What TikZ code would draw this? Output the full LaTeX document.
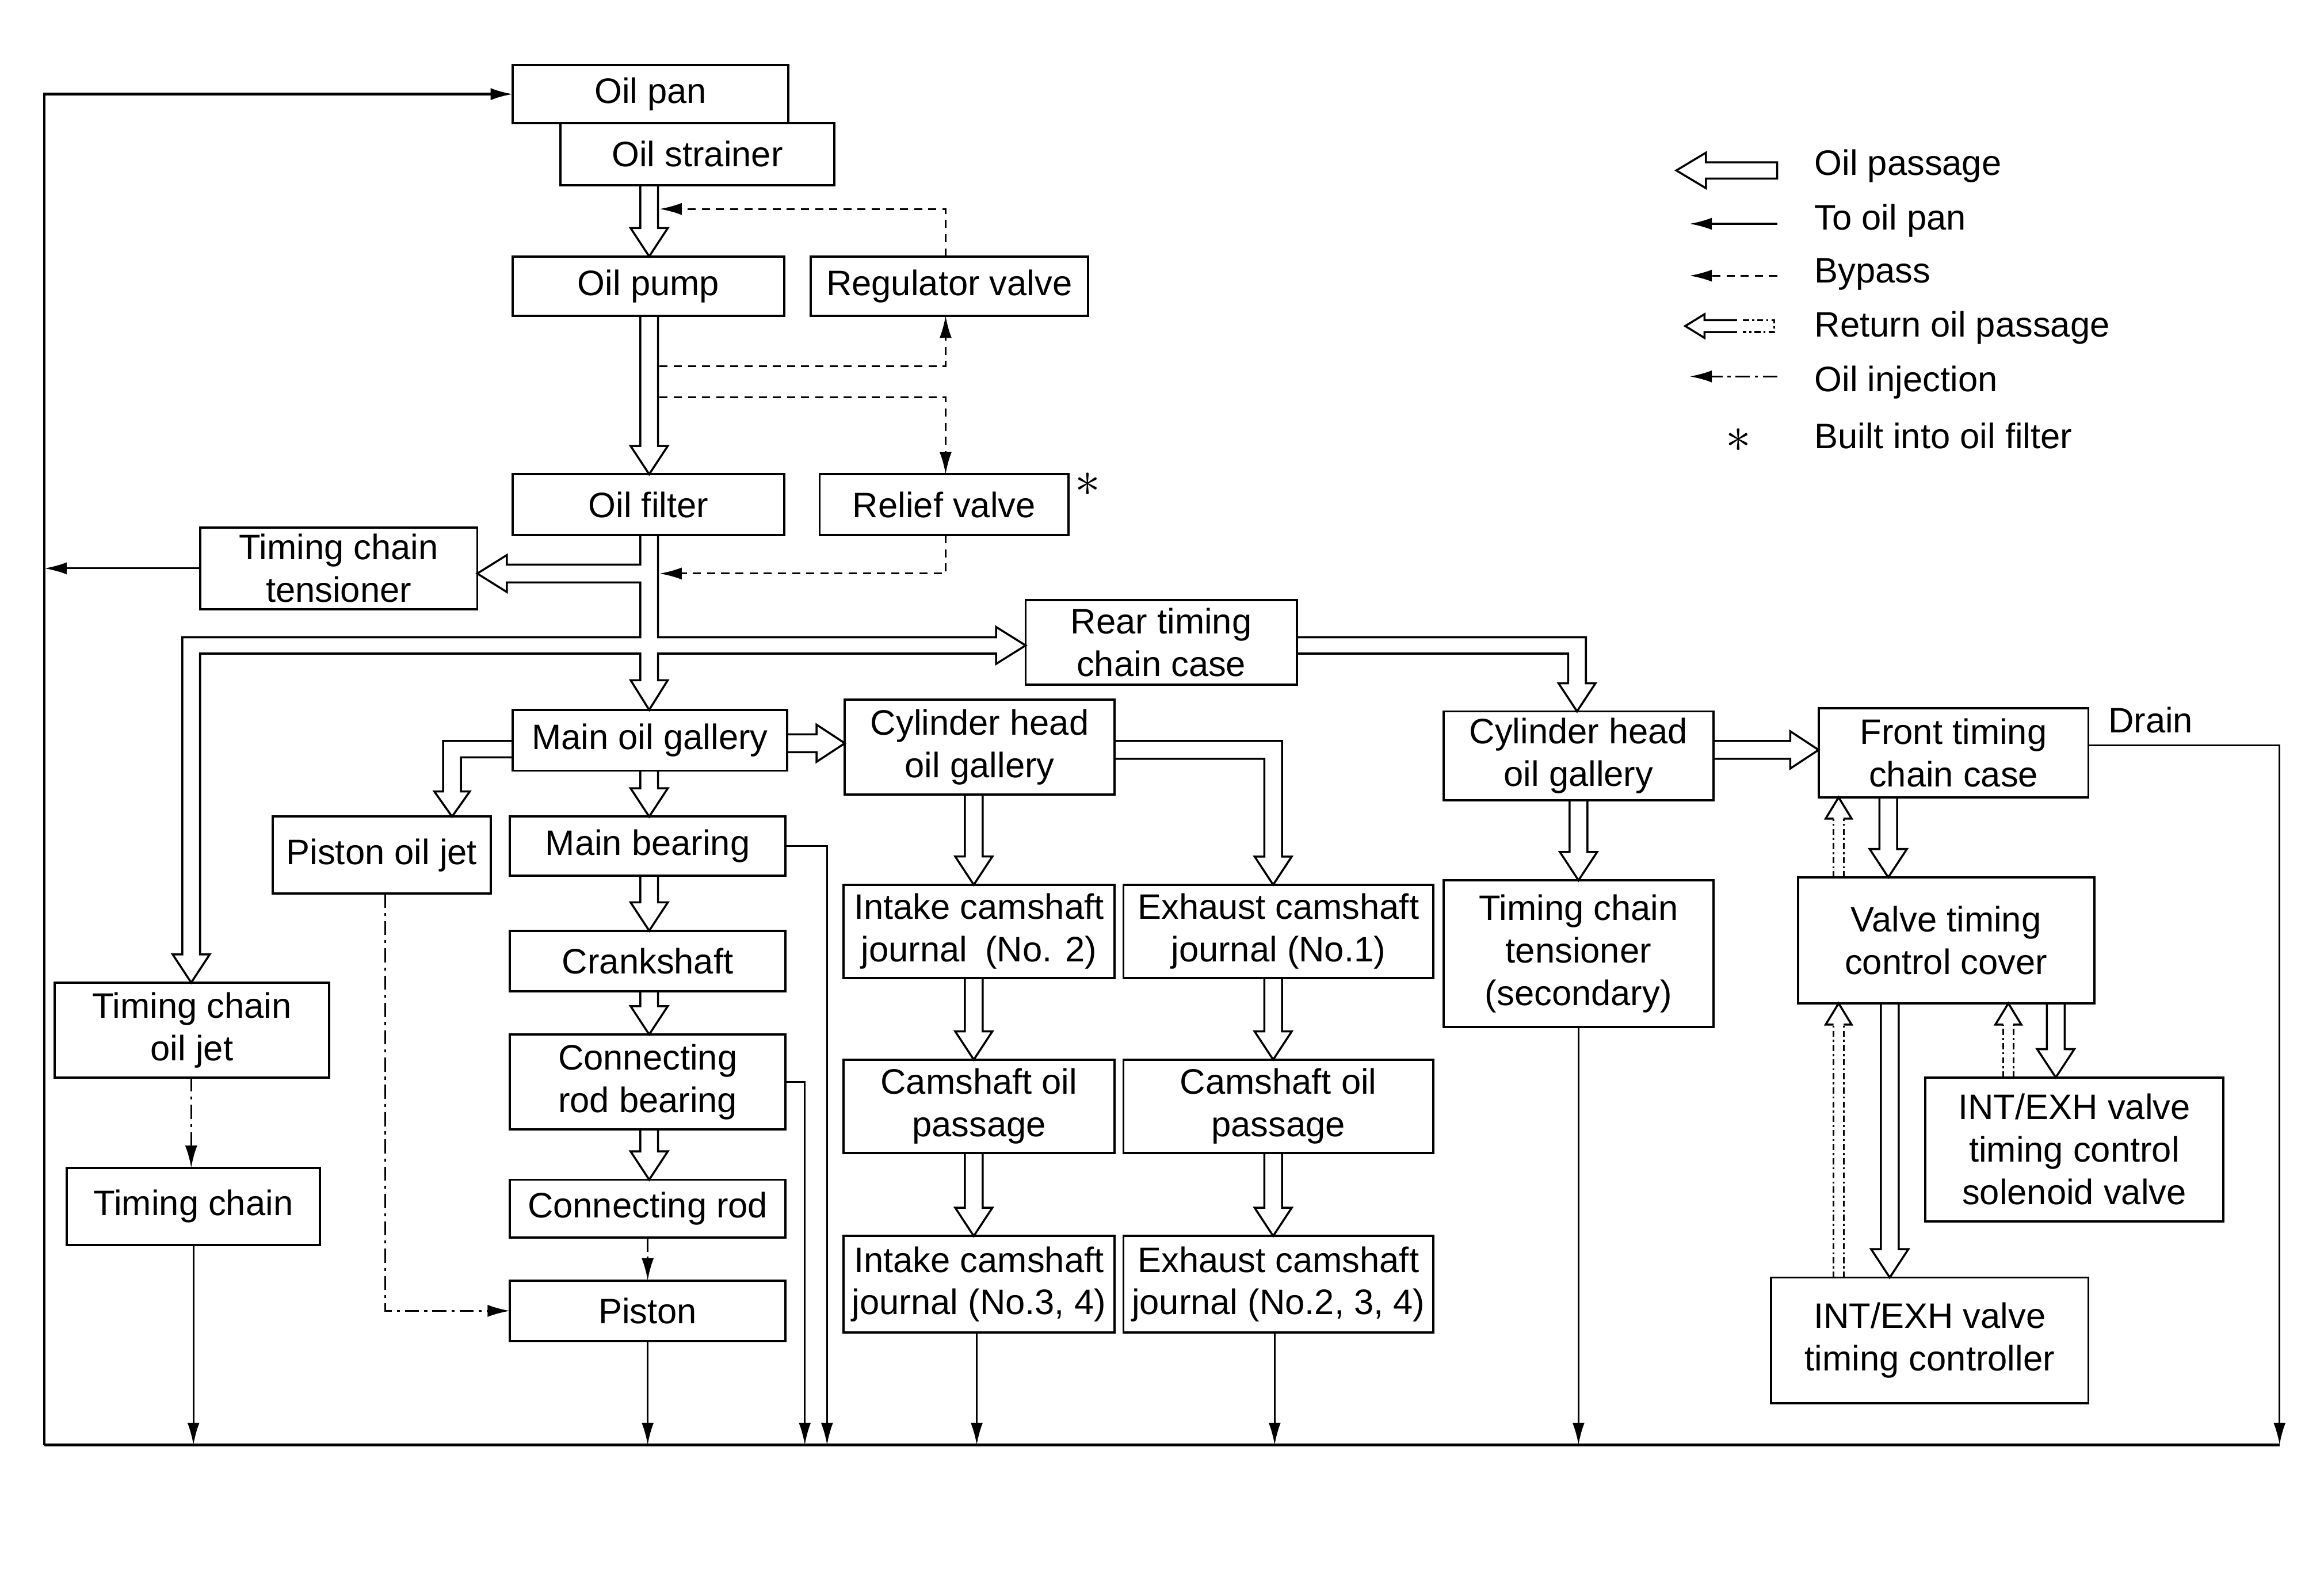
\documentclass[tikz,border=0pt]{standalone}
\usepackage{fontspec}
\setmainfont{Liberation Sans}
\usetikzlibrary{arrows.meta,calc}
\newcommand\lab{\fontsize{17.5}{21}\selectfont}
\def\aw{4.4pt}\def\ah{9.2pt}\def\al{14pt}
\def\rw{2.5pt}\def\rh{6.4pt}\def\rl{10.5pt}
\newcommand\bx[6]{\node[box,minimum width={(#4-#2)*0.02576cm},minimum height={(#5-#3)*0.02576cm}] (#1) at ({(#2+#4)/2},{(#3+#5)/2}) {#6};}
\newcommand\hdown[3]{\draw[passage] let \p1=(#2), \p2=(#3), \p3=(#1,0) in (\x3-\aw,\y1) -- (\x3-\aw,\y2+\al) -- (\x3-\ah,\y2+\al) -- (\x3,\y2) -- (\x3+\ah,\y2+\al) -- (\x3+\aw,\y2+\al) -- (\x3+\aw,\y1);}
\newcommand\hright[3]{\draw[passage] let \p1=(#2), \p2=(#3), \p3=(0,#1) in (\x1,\y3+\aw) -- (\x2-\al,\y3+\aw) -- (\x2-\al,\y3+\ah) -- (\x2,\y3) -- (\x2-\al,\y3-\ah) -- (\x2-\al,\y3-\aw) -- (\x1,\y3-\aw);}
\newcommand\rup[3]{\draw[retline] let \p1=(#2), \p2=(#3), \p3=(#1,0) in (\x3-\rw,\y1) -- (\x3-\rw,\y2-\rl) (\x3+\rw,\y1) -- (\x3+\rw,\y2-\rl);
\draw[passage] let \p1=(#2), \p2=(#3), \p3=(#1,0) in (\x3-\rw,\y2-\rl) -- (\x3-\rh,\y2-\rl) -- (\x3,\y2) -- (\x3+\rh,\y2-\rl) -- (\x3+\rw,\y2-\rl);}
\begin{document}
\begin{tikzpicture}[x=0.02576cm,y=-0.02576cm,
  box/.style={draw,line width=1.1pt,inner sep=0pt,outer sep=0pt,align=center,font=\lab},
  passage/.style={draw,line width=1pt,line join=miter},
  flow/.style={draw,line width=0.9pt,-{Latex[length=11pt,width=6pt]}},
  bypass/.style={flow,dash pattern=on 4pt off 3pt},
  inject/.style={flow,dash pattern=on 7pt off 2.5pt on 1.5pt off 2.5pt},
  retline/.style={draw,line width=0.9pt,dash pattern=on 3pt off 1.5pt on 1pt off 1.5pt},
  txt/.style={font=\lab,inner sep=0pt}]
\useasboundingbox (0,0) rectangle (1568,1064);
% boxes
\bx{oilpan}{346}{44}{532}{83}{Oil pan}
\bx{strainer}{378}{83}{563}{125}{Oil strainer}
\bx{pump}{346}{173}{529}{213}{Oil pump}
\bx{regulator}{547}{173}{734}{213}{Regulator valve}
\bx{filter}{346}{320}{529}{361}{Oil filter}
\bx{relief}{553}{320}{721}{361}{Relief valve}
\bx{tensioner}{135}{356}{322}{411}{Timing chain\\tensioner}
\bx{rear}{692}{405}{875}{462}{Rear timing\\chain case}
\bx{maingal}{346}{479}{531}{520}{Main oil gallery}
\bx{cylL}{570}{472}{752}{536}{Cylinder head\\oil gallery}
\bx{cylR}{974}{480}{1156}{540}{Cylinder head\\oil gallery}
\bx{front}{1227}{478}{1409}{538}{Front timing\\chain case}
\bx{pistonjet}{184}{551}{331}{603}{Piston oil jet}
\bx{mainbear}{344}{551}{530}{591}{Main bearing}
\bx{intake2}{569}{597}{752}{660}{Intake camshaft\\journal\enspace(No. 2)}
\bx{exhaust1}{758}{597}{967}{660}{Exhaust camshaft\\journal (No.1)}
\bx{tens2}{974}{594}{1156}{693}{Timing chain\\tensioner\\(secondary)}
\bx{vtc}{1213}{592}{1413}{677}{Valve timing\\control cover}
\bx{crank}{344}{628}{530}{669}{Crankshaft}
\bx{tcjet}{37}{663}{222}{727}{Timing chain\\oil jet}
\bx{crb}{344}{698}{530}{762}{Connecting\\rod bearing}
\bx{campL}{569}{715}{752}{778}{Camshaft oil\\passage}
\bx{campR}{758}{715}{967}{778}{Camshaft oil\\passage}
\bx{solenoid}{1299}{727}{1500}{824}{INT/EXH valve\\timing control\\solenoid valve}
\bx{tchain}{45}{788}{216}{840}{Timing chain}
\bx{conrod}{344}{796}{530}{835}{Connecting rod}
\bx{piston}{344}{864}{530}{905}{Piston}
\bx{intake34}{569}{834}{752}{899}{Intake camshaft\\journal (No.3, 4)}
\bx{exhaust234}{758}{834}{967}{899}{Exhaust camshaft\\journal (No.2, 3, 4)}
\bx{controller}{1195}{862}{1409}{947}{INT/EXH valve\\timing controller}
\node[txt] (star) at (734,327) {\fontsize{26}{26}\selectfont$\ast$};
\node[txt] (drain) at (1451,486) {Drain};
% main trunk from oil filter
\draw[passage] (432,0 |- filter.south) -- (432,381) -- (342,381) -- (342,374.5)
  -- (tensioner.east |- 0,387) -- (342,399.5) -- (342,393) -- (432,393) -- (432,430)
  -- (123,430) -- (123,644) -- (116.5,644) -- (129,0 |- tcjet.north) -- (141.5,644)
  -- (135,644) -- (135,441) -- (432,441) -- (432,459) -- (425.5,459)
  -- (438,0 |- maingal.north) -- (450.5,459) -- (444,459) -- (444,441) -- (672,441)
  -- (672,448) -- (rear.west |- 0,435.5) -- (672,423) -- (672,430) -- (444,430)
  -- (444,0 |- filter.south);
% straight passages
\hdown{438}{strainer.south}{pump.north}
\hdown{438}{pump.south}{filter.north}
\hdown{438}{maingal.south}{mainbear.north}
\hdown{438}{mainbear.south}{crank.north}
\hdown{438}{crank.south}{crb.north}
\hdown{438}{crb.south}{conrod.north}
\hdown{657}{cylL.south}{intake2.north}
\hdown{657}{intake2.south}{campL.north}
\hdown{657}{campL.south}{intake34.north}
\hdown{859}{exhaust1.south}{campR.north}
\hdown{859}{campR.south}{exhaust234.north}
\hdown{1065}{cylR.south}{tens2.north}
\hdown{1274}{front.south}{vtc.north}
\hdown{1275}{vtc.south}{controller.north}
\hdown{1387}{vtc.south}{solenoid.north}
\hright{501.5}{maingal.east}{cylL.west}
\hright{506}{cylR.east}{front.west}
% bent passages
\draw[passage] (maingal.west |- 0,500) -- (299,500) -- (299,534) -- (293,534)
  -- (305,0 |- pistonjet.north) -- (317,534) -- (311,534) -- (311,511) -- (maingal.west |- 0,511);
\draw[passage] (cylL.east |- 0,500) -- (865,500) -- (865,578) -- (871.5,578)
  -- (859,0 |- exhaust1.north) -- (846.5,578) -- (853,578) -- (853,512) -- (cylL.east |- 0,512);
\draw[passage] (rear.east |- 0,430) -- (1070,430) -- (1070,461) -- (1076.5,461)
  -- (1064,0 |- cylR.north) -- (1051.5,461) -- (1058,461) -- (1058,441) -- (rear.east |- 0,441);
% return passages
\rup{1240.5}{vtc.north}{front.south}
\rup{1240.5}{controller.north}{vtc.south}
\rup{1355}{solenoid.north}{vtc.south}
% bypass
\draw[bypass] (638,0 |- regulator.north) -- (638,141) -- (445,141);
\draw[bypass] (445,247) -- (638,247) -- (638,0 |- regulator.south);
\draw[bypass] (445,268) -- (638,268) -- (638,0 |- relief.north);
\draw[bypass] (638,0 |- relief.south) -- (638,387) -- (445,387);
% oil injection
\draw[inject] (129,0 |- tcjet.south) -- (129,0 |- tchain.north);
\draw[inject] (260,0 |- pistonjet.south) -- (260,0 |- piston.west) -- (piston.west);
\draw[inject] (437,0 |- conrod.south) -- (437,0 |- piston.north);
% return to oil pan
\coordinate (bl) at (30,975);
\coordinate (br) at (1538,975);
\draw[line width=1.2pt] (bl) -- (br);
\draw[flow,line width=1.2pt] (bl) -- (bl |- oilpan.west) -- (oilpan.west);
\draw[flow] (tensioner.west) -- (bl |- tensioner.west);
\draw[flow] (tchain.south) -- (tchain.south |- bl);
\draw[flow] (piston.south) -- (piston.south |- bl);
\draw[flow] (crb.east) -- (543,0 |- crb.east) -- (543,0 |- bl);
\draw[flow] (mainbear.east) -- (558,0 |- mainbear.east) -- (558,0 |- bl);
\draw[flow] (659,0 |- intake34.south) -- (659,0 |- bl);
\draw[flow] (860,0 |- exhaust234.south) -- (860,0 |- bl);
\draw[flow] (tens2.south) -- (tens2.south |- bl);
\draw[flow] (front.east |- 0,503) -- (br |- 0,503) -- (br);
% legend
\node[txt,anchor=west] (l1) at (1224,112) {Oil passage};
\node[txt,anchor=west] (l2) at (1224,149) {To oil pan};
\node[txt,anchor=west] (l3) at (1224,185) {Bypass};
\node[txt,anchor=west] (l4) at (1224,221) {Return oil passage};
\node[txt,anchor=west] (l5) at (1224,258) {Oil injection};
\node[txt,anchor=west] (l6) at (1224,294) {Built into oil filter};
\draw[passage] (1199,109.5) -- (1151,109.5) -- (1151,103) -- (1131,115) -- (1151,127) -- (1151,120.5) -- (1199,120.5) -- cycle;
\coordinate (lt2) at (1199,151);
\draw[flow] (lt2) -- (1140,151);
\coordinate (lt3) at (1199,186);
\draw[bypass] (lt3) -- (1140,186);
\draw[passage] (1172,216) -- (1150,216) -- (1150,212) -- (1137,220) -- (1150,228) -- (1150,224) -- (1172,224);
\draw[retline] (1176,216) -- (1197,216) -- (1197,224) -- (1176,224);
\coordinate (lt5) at (1199,254);
\draw[inject] (lt5) -- (1140,254);
\node[txt] (lstar) at (1173,297) {\fontsize{26}{26}\selectfont$\ast$};
\end{tikzpicture}
\end{document}
